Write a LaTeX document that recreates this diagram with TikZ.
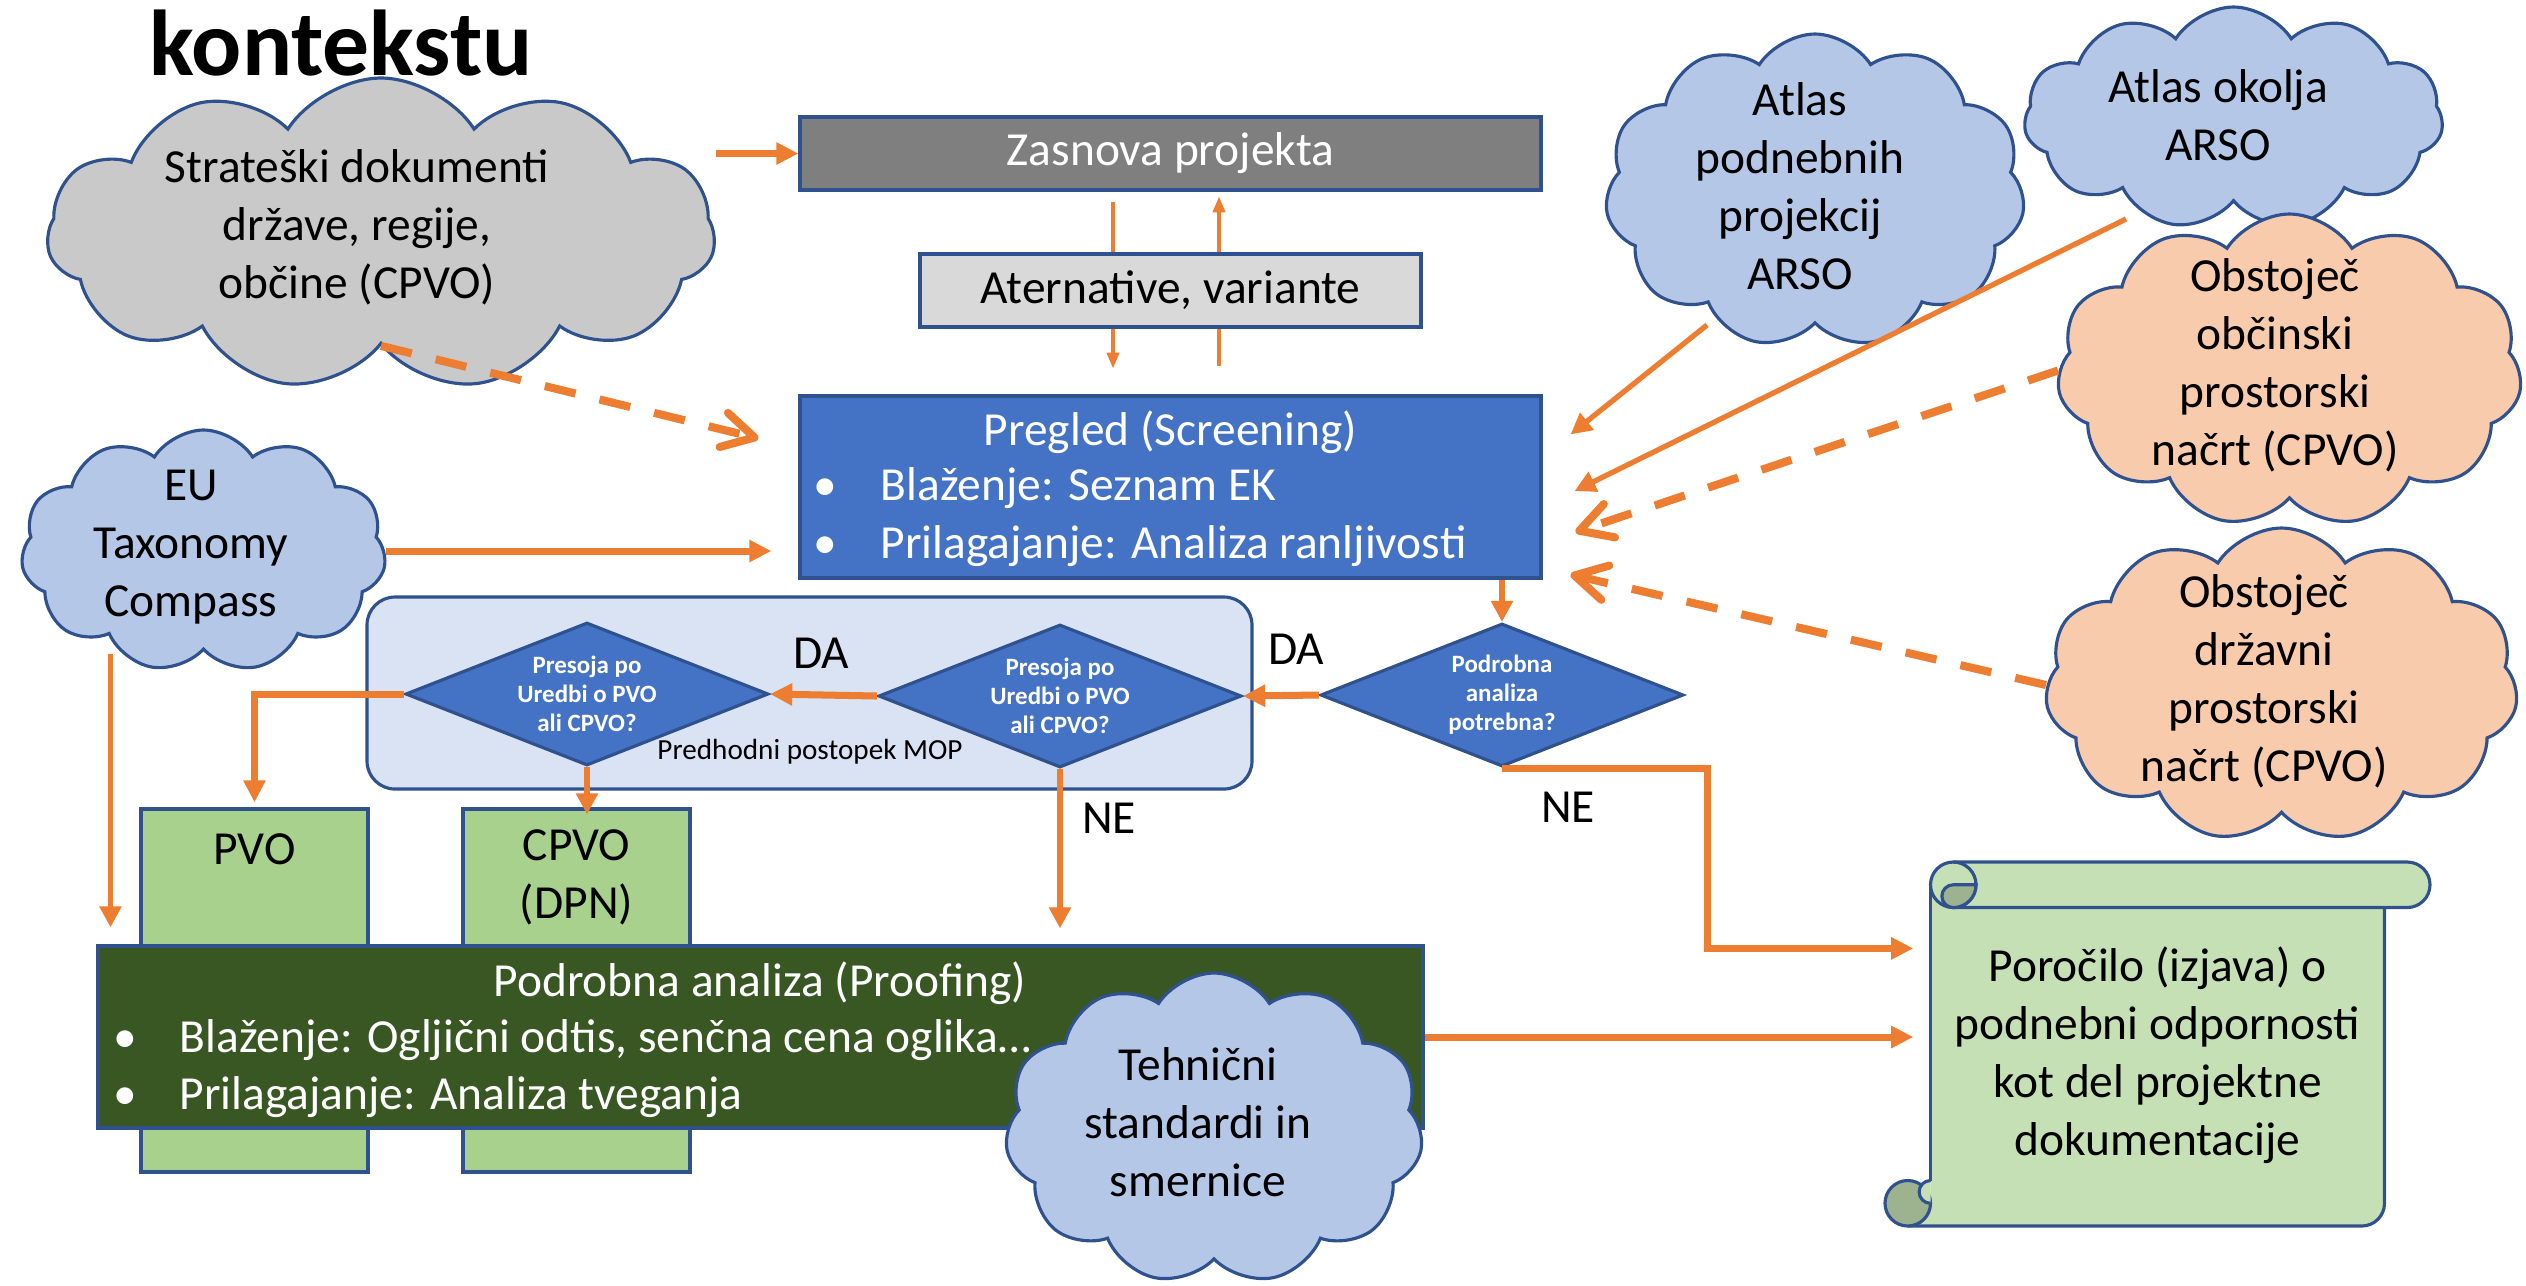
\documentclass[tikz,border=0pt]{standalone}
\usepackage{fontspec}
\setmainfont{Carlito}
\usetikzlibrary{shapes.geometric,shapes.symbols,arrows.meta,calc}
\definecolor{orng}{HTML}{ED7D31}
\definecolor{bord}{HTML}{2F528F}
\definecolor{gry}{HTML}{7F7F7F}
\definecolor{lgry}{HTML}{D9D9D9}
\definecolor{cgry}{HTML}{C9C9C9}
\definecolor{blu}{HTML}{4472C4}
\definecolor{lblu}{HTML}{B4C7E7}
\definecolor{pale}{HTML}{DAE3F3}
\definecolor{grn}{HTML}{A9D18E}
\definecolor{dgrn}{HTML}{385723}
\definecolor{peach}{HTML}{F8CBAD}
\definecolor{scr}{HTML}{C5E0B4}
\definecolor{scrd}{HTML}{9DB38F}
\begin{document}
\begin{tikzpicture}[x=0.1mm,y=-0.1mm,
  txt/.style={font=\fontsize{13.5}{16.5}\selectfont, align=center, inner sep=0pt},
  box/.style={draw=bord, line width=0.9pt, inner sep=0pt},
  cld/.style={cloud, cloud puffs=11, cloud puff arc=115, cloud ignores aspect, draw=bord, line width=0.9pt, inner sep=0pt},
  dia/.style={diamond, draw=bord, line width=0.9pt, fill=blu, inner sep=0pt, shape aspect=2.5, minimum width=36.3mm, minimum height=14.3mm, text=white, align=center, font=\fontsize{7.1}{8.3}\selectfont\bfseries},
  arr/.style={draw=orng, line width=2pt, -{Triangle[length=6.3pt,width=6pt]}},
  arrm/.style={draw=orng, line width=1.5pt, -{Triangle[length=6pt,width=6pt]}},
  arrt/.style={draw=orng, line width=0.9pt, -{Triangle[length=4.5pt,width=3.5pt]}},
  arrd/.style={draw=orng, line width=2.3pt, dash pattern=on 9pt off 7pt, -{Straight Barb[length=9pt,width=10pt,round]}},
]
\useasboundingbox (0,0) rectangle (2526,1285);

% title
\node[font=\fontsize{26.6}{30}\selectfont\bfseries, anchor=base west, inner sep=0pt] (title) at (149,75) {kontekstu};

% left clouds
\node[cld, fill=cgry, minimum width=66.8mm, minimum height=31.2mm] (strat) at (381,234) {};
\node[txt] (stratT) at (357,227) {Strateški dokumenti\\države, regije,\\občine (CPVO)};
\node[cld, fill=lblu, minimum width=36.5mm, minimum height=24.2mm] (eu) at (203.5,551) {};
\node[txt] (euT) at (191,547) {EU\\Taxonomy\\Compass};

% main boxes
\node[box, txt, fill=gry, text=white, minimum width=74.1mm, minimum height=7.3mm] (zas) at (1170.5,153.5) {Zasnova projekta};
\node[box, fill=blu, minimum width=74.1mm, minimum height=18.2mm] (preg) at (1170.5,487) {};
\node[txt, text=white] (pregT) at (1170.5,432) {Pregled (Screening)};
\node[txt, text=white, anchor=west] (pregB1) at (813,488) {\makebox[6.7mm][l]{•}Blaženje: Seznam EK};
\node[txt, text=white, anchor=west] (pregB2) at (813,546) {\makebox[6.7mm][l]{•}Prilagajanje: Analiza ranljivosti};

% thin arrows between Zasnova and Pregled (behind Aternative box)
\draw[arrt, shorten <=1mm, shorten >=2.6mm] ([xshift=-5.75mm]zas.south) -- ([xshift=-5.75mm]preg.north);
\draw[arrt, shorten <=2.8mm, shorten >=0.5mm] ([xshift=4.85mm]preg.north) -- ([xshift=4.85mm]zas.south);
\node[box, txt, fill=lgry, minimum width=50.1mm, minimum height=7.3mm] (alt) at (1170.5,290.5) {Aternative, variante};

% MOP container and diamonds
\node[draw=bord, line width=0.9pt, fill=pale, rounded corners=2.8mm, minimum width=88.5mm, minimum height=19.2mm, inner sep=0pt] (mop) at (809.5,693) {};
\node[font=\fontsize{8.3}{10}\selectfont, inner sep=0pt] (mopT) at (810,752) {Predhodni postopek MOP};
\node[dia] (d1) at (587,694) {Presoja po\\Uredbi o PVO\\ali CPVO?};
\node[dia] (d2) at (1060,696) {Presoja po\\Uredbi o PVO\\ali CPVO?};
\node[dia] (d3) at (1502,695) {Podrobna\\analiza\\potrebna?};

% green boxes
\node[box, fill=grn, minimum width=22.7mm, minimum height=36.3mm] (pvo) at (254.5,990.5) {};
\node[txt] (pvoT) at (254.5,849) {PVO};
\node[box, fill=grn, minimum width=22.7mm, minimum height=36.3mm] (cpvo) at (576.5,990.5) {};
\node[txt] (cpvoT) at (576.5,877) {CPVO\\(DPN)};

% proofing box
\node[box, fill=dgrn, minimum width=132.5mm, minimum height=18.2mm] (podr) at (760.5,1037) {};
\node[txt, text=white] (podrT) at (760,983) {Podrobna analiza (Proofing)};
\node[txt, text=white, anchor=west] (podrB1) at (113,1040) {\makebox[6.6mm][l]{•}Blaženje: Ogljični odtis, senčna cena oglika…};
\node[txt, text=white, anchor=west] (podrB2) at (113,1097) {\makebox[6.6mm][l]{•}Prilagajanje: Analiza tveganja};

% technical standards cloud
\node[cld, fill=lblu, minimum width=41.8mm, minimum height=31.1mm] (teh) at (1214,1128.5) {};
\node[txt] (tehT) at (1198,1122) {Tehnični\\standardi in\\smernice};

% right clouds
\node[cld, fill=lblu, minimum width=42.0mm, minimum height=31.4mm] (atlasp) at (1815,191) {};
\node[txt] (atlaspT) at (1800,186) {Atlas\\podnebnih\\projekcij\\ARSO};
\node[cld, fill=lblu, minimum width=41.9mm, minimum height=22.2mm] (atlaso) at (2233.5,118) {};
\node[txt] (atlasoT) at (2218,115) {Atlas okolja\\ARSO};
\node[cld, fill=peach, minimum width=46.5mm, minimum height=31.3mm] (obc) at (2289.5,370.5) {};
\node[txt] (obcT) at (2275,365) {Obstoječ\\občinski\\prostorski\\načrt (CPVO)};
\node[cld, fill=peach, minimum width=47.3mm, minimum height=31.4mm] (drz) at (2281.5,685) {};
\node[txt] (drzT) at (2264,681) {Obstoječ\\državni\\prostorski\\načrt (CPVO)};

% scroll
\fill[scr] (1907.75,1226) -- (1907.75,1203) -- (1930.5,1203) -- (1930.5,884.75) -- (2384.5,884.75) -- (2384.5,1203.25) arc[start angle=0,end angle=90,radius=22.75] -- cycle;
\draw[bord, line width=0.9pt] (1930.5,884.75) -- (1930.5,1180.5);
\draw[bord, line width=0.9pt] (2384.5,907.5) -- (2384.5,1203.25) arc[start angle=0,end angle=90,radius=22.75] -- (1907.75,1226);
\filldraw[fill=scrd, draw=bord, line width=0.9pt] (1907.75,1203.25) circle[radius=22.75];
\filldraw[fill=scr, draw=bord, line width=0.9pt] (1930.5,1180.5) arc[start angle=270,end angle=90,radius=11.4];
\filldraw[fill=scr, draw=bord, line width=0.9pt] (1953.25,862) -- (2407.25,862) arc[start angle=-90,end angle=90,radius=22.75] -- (1953.25,907.5) arc[start angle=90,end angle=270,radius=22.75] -- cycle;
\draw[bord, line width=0.9pt] (1953.25,862) arc[start angle=-90,end angle=90,radius=22.75];
\filldraw[fill=scrd, draw=bord, line width=0.9pt] (1953.25,884.75) arc[start angle=270,end angle=90,radius=11.4] arc[start angle=90,end angle=0,radius=22.75] -- cycle;
\node[txt, minimum width=45.4mm, minimum height=34.1mm] (scroll) at (2157.5,1055.4) {Poročilo (izjava) o\\podnebni odpornosti\\kot del projektne\\dokumentacije};

% labels
\node[txt] (da1) at (821,653) {DA};
\node[txt] (da2) at (1296,649) {DA};
\node[txt] (ne1) at (1109,818) {NE};
\node[txt] (ne2) at (1568,807) {NE};

% connectors
\draw[arr] (strat.east |- zas.west) -- (zas.west);
\draw[arrd] (strat.south) -- ($(preg.north west)+(-40,44)$);
\draw[arr, shorten >=2.7mm] (eu.east) -- (eu.east -| preg.west);
\coordinate (euOut) at ($(eu.center)+(-93,103)$);
\draw[arrm, shorten >=1.7mm] (euOut) -- (euOut |- podr.north);
\draw[arrm] ($(atlasp.center)+(-108,134)$) -- ($(preg.north east)+(28,40)$);
\draw[arrm] ($(atlaso.center)+(-107.5,101)$) -- ($(preg.east)+(32,4)$);
\draw[arrd] (obc.west) -- ($(preg.east)+(33,45)$);
\draw[arrd] (drz.west) -- ($(preg.south east)+(28,-5)$);
\draw[arrm] (preg.south -| d3.north) -- (d3.north);
\draw[arr] (d3.west) -- (d2.east);
\draw[arr] (d2.west) -- (d1.east);
\draw[arr, shorten >=0.5mm] (d1.west) -| (pvo.north);
\draw[arrm, shorten >=-0.7mm] (d1.south) -- (d1.south |- cpvo.north);
\draw[arrm, shorten >=1.6mm] (d2.south) -- (d2.south |- podr.north);
\draw[arr, shorten >=1.65mm] (d3.south) -- ++(205,0) |- ([yshift=10.7mm]scroll.west);
\draw[arr, shorten >=1.65mm] (podr.east) -- (podr.east -| scroll.west);
\end{tikzpicture}
\end{document}
